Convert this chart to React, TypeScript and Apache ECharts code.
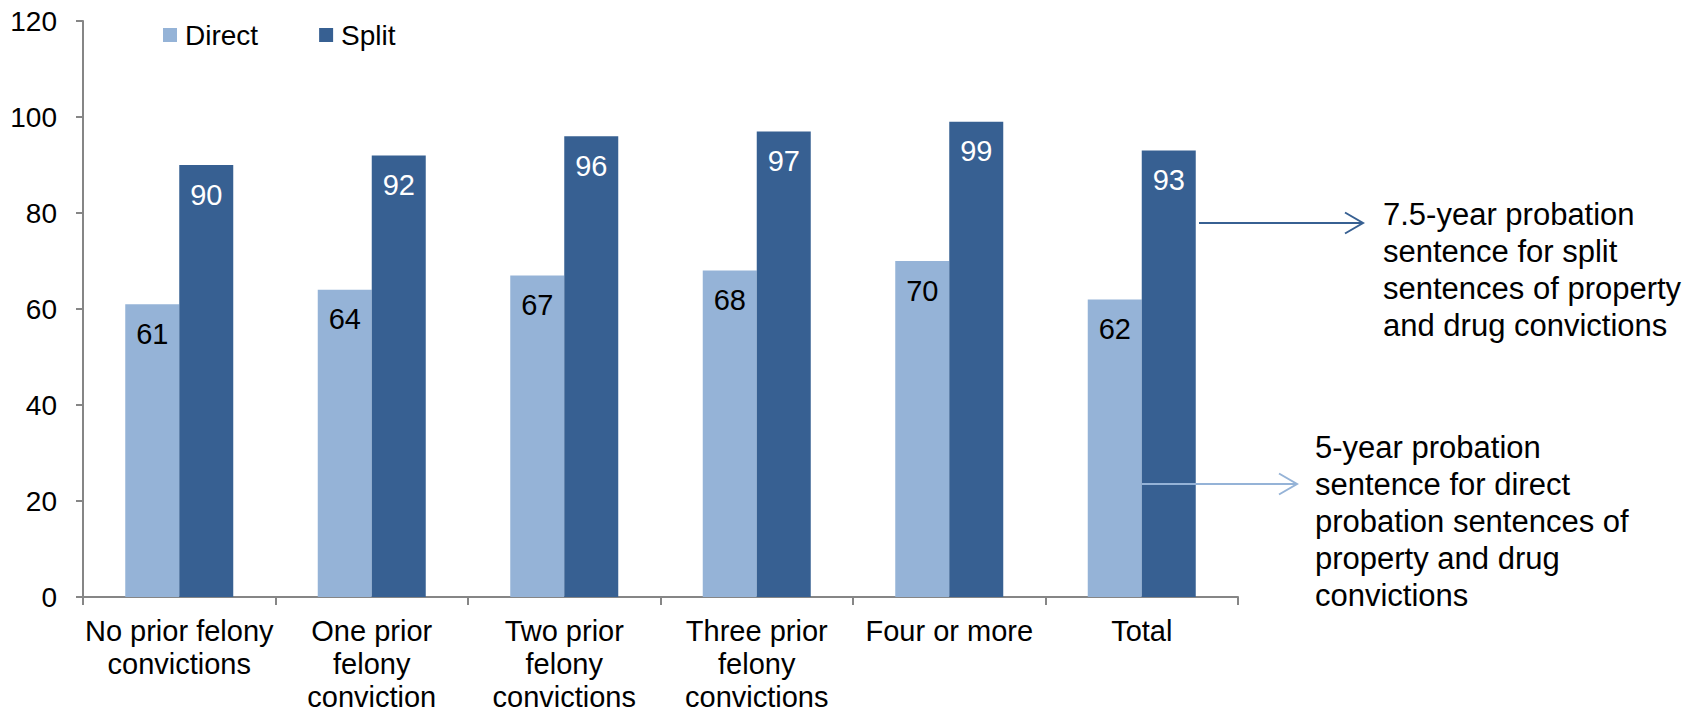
import React, { useEffect, useRef } from "react";
import * as echarts from "echarts";

// Categories along the x axis (line breaks as shown under each group)
const categories = [
  "No prior felony\nconvictions",
  "One prior\nfelony\nconviction",
  "Two prior\nfelony\nconvictions",
  "Three prior\nfelony\nconvictions",
  "Four or more",
  "Total",
];

const seriesNames = ["Direct", "Split"];
const directValues = [61, 64, 67, 68, 70, 62];
const splitValues = [90, 92, 96, 97, 99, 93];

const yMin = 0;
const yMax = 120;
const yStep = 20;

const splitNote = [
  "7.5-year probation",
  "sentence for split",
  "sentences of property",
  "and drug convictions",
];
const directNote = [
  "5-year probation",
  "sentence for direct",
  "probation sentences of",
  "property and drug",
  "convictions",
];

const FONT = "'Liberation Sans', Arial, 'Noto Sans', sans-serif";
const LIGHT = "#95B3D7";
const DARK = "#376092";
const AXIS = "#868686";

// Horizontal arrow with an open chevron head, drawn above the bars
function arrow(x1: number, x2: number, y: number, color: string) {
  return {
    type: "group",
    z: 100,
    children: [
      {
        type: "line",
        z: 100,
        shape: { x1, y1: y, x2, y2: y },
        style: { stroke: color, lineWidth: 2 },
      },
      {
        type: "polyline",
        z: 100,
        shape: {
          points: [
            [x2 - 18, y - 10.5],
            [x2, y],
            [x2 - 18, y + 10.5],
          ],
        },
        style: { stroke: color, lineWidth: 2, fill: "none" },
      },
    ],
  };
}

export default function App() {
  const ref = useRef<HTMLDivElement>(null);

  useEffect(() => {
    if (!ref.current) return;
    const chart = echarts.init(ref.current, null, { renderer: "svg" });

    chart.setOption({
      animation: false,
      backgroundColor: "#ffffff",
      textStyle: { fontFamily: FONT },
      grid: { left: 83, right: 469, top: 21, bottom: 116, containLabel: false },
      legend: {
        data: seriesNames,
        left: 158,
        top: 15,
        itemWidth: 14,
        itemHeight: 14,
        itemGap: 61,
        icon: "rect",
        textStyle: {
          fontSize: 28,
          color: "#000",
          fontFamily: FONT,
          lineHeight: 30,
          padding: [0, 0, 0, 3],
        },
      },
      xAxis: {
        type: "category",
        data: categories,
        axisLine: { lineStyle: { color: AXIS, width: 2 } },
        axisTick: { show: true, length: 8, lineStyle: { color: AXIS, width: 2 } },
        axisLabel: {
          interval: 0,
          margin: 17,
          fontSize: 29,
          lineHeight: 33,
          color: "#000",
          fontFamily: FONT,
        },
      },
      yAxis: {
        type: "value",
        min: yMin,
        max: yMax,
        interval: yStep,
        splitLine: { show: false },
        axisLine: { show: true, lineStyle: { color: AXIS, width: 2 } },
        axisTick: { show: true, length: 7, lineStyle: { color: AXIS, width: 2 } },
        axisLabel: { fontSize: 28, color: "#000", margin: 26, fontFamily: FONT },
      },
      series: [
        {
          name: seriesNames[0],
          type: "bar",
          data: directValues,
          barWidth: 54,
          barGap: "0%",
          itemStyle: { color: LIGHT },
          label: {
            show: true,
            position: "insideTop",
            distance: 15,
            fontSize: 29,
            color: "#000",
            fontFamily: FONT,
          },
        },
        {
          name: seriesNames[1],
          type: "bar",
          data: splitValues,
          barWidth: 54,
          barGap: "0%",
          itemStyle: { color: DARK },
          label: {
            show: true,
            position: "insideTop",
            distance: 15,
            fontSize: 29,
            color: "#fff",
            fontFamily: FONT,
          },
        },
      ],
      graphic: [
        arrow(1199, 1363, 223, DARK),
        arrow(1142, 1297, 484, LIGHT),
        {
          type: "text",
          left: 1383,
          top: 196,
          style: {
            text: splitNote.join("\n"),
            font: `31px ${FONT}`,
            lineHeight: 37,
            fill: "#000",
          },
        },
        {
          type: "text",
          left: 1315,
          top: 429,
          style: {
            text: directNote.join("\n"),
            font: `31px ${FONT}`,
            lineHeight: 37,
            fill: "#000",
          },
        },
      ],
    });

    return () => chart.dispose();
  }, []);

  return (
    <div
      ref={ref}
      style={{ position: "fixed", left: 0, top: 0, width: 1707, height: 713 }}
    />
  );
}
